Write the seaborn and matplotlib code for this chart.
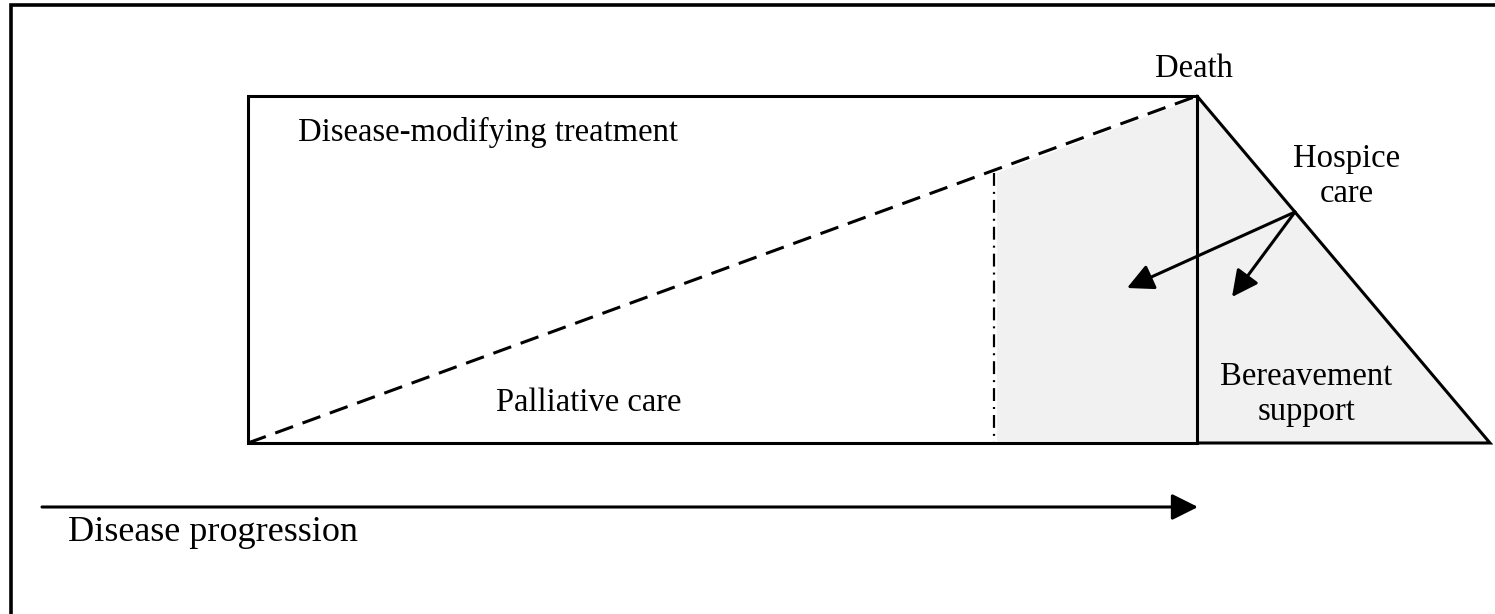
import numpy as np
import matplotlib
matplotlib.use("Agg")
import matplotlib.pyplot as plt
import seaborn as sns

# diagram geometry (pixel space of the original figure, y grows downward)
stage_x = [248, 997, 1197, 1490]      # onset, palliative shift, death, end of bereavement
top_y, base_y = 96, 443
progress_x = [42, 1198]
progress_y = 507
hospice_from = (1295, 212)
hospice_to = [(1127, 288), (1232, 297)]

labels = ["Death", "Disease-modifying treatment", "Hospice", "care",
          "Palliative care", "Bereavement", "support", "Disease progression"]
label_x = [1194, 298, 1347, 1347, 589, 1306, 1307, 68]
label_y = [77, 141, 167, 202, 411, 385, 420, 541]
label_ha = ["center", "left", "center", "center", "center", "center", "center", "left"]
label_size = [23.5, 23.5, 23.5, 23.5, 23.5, 23.5, 23.5, 26]

sns.set_theme(style="white")
plt.rcParams['font.family'] = ['Liberation Serif', 'DejaVu Serif']

fig = plt.figure(figsize=(14.95, 6.14), dpi=100)
ax = fig.add_axes([0, 0, 1, 1])
ax.set_xlim(0, 1495)
ax.set_ylim(614, 0)
ax.axis("off")

x0, x1, x2, x3 = stage_x

def dash_y(x):
    # y on the dashed diagonal from (x0, base) to (x2, top)
    return base_y - (x - x0) * (base_y - top_y) / (x2 - x0)

# shaded hospice / bereavement zone
shade_x = [x1, x1, x2, x3, x1]
shade_y = [base_y, dash_y(x1) + 4, top_y + 2, base_y, base_y]
ax.fill(shade_x, shade_y, color="#f1f1f1", lw=0, zorder=1)

lw = 2.2
# main rectangle
ax.plot([x0, x2, x2, x0, x0], [top_y, top_y, base_y, base_y, top_y],
        color="black", lw=lw, solid_joinstyle="miter", zorder=3)
# triangle after death
ax.plot([x2, x3, x2], [top_y, base_y, base_y], color="black", lw=lw,
        solid_joinstyle="miter", zorder=3)
# dashed diagonal
ax.plot([x0, x2], [base_y, top_y], color="black", lw=lw,
        linestyle=(0, (6.2, 3.3)), zorder=3)
# dash-dot vertical
ax.plot([x1 - 3, x1 - 3], [dash_y(x1) + 4, base_y], color="black", lw=1.6,
        linestyle=(0, (5.8, 2.7, 0.9, 2.7)), zorder=3)

# outer frame (left and top only)
ax.plot([11, 11, 1495], [614, 5, 5], color="black", lw=2.6,
        solid_joinstyle="miter", zorder=3)

# arrows
style = "-|>,head_length=0.8,head_width=0.4"
ax.annotate("", xy=(progress_x[1], progress_y), xytext=(progress_x[0], progress_y),
            arrowprops=dict(arrowstyle=style, color="black", lw=2.2,
                            mutation_scale=20, shrinkA=0, shrinkB=0), zorder=4)
for tip in hospice_to:
    ax.annotate("", xy=tip, xytext=hospice_from,
                arrowprops=dict(arrowstyle=style, color="black", lw=2.2,
                                mutation_scale=20, shrinkA=0, shrinkB=0), zorder=4)

for t, x, y, ha, s in zip(labels, label_x, label_y, label_ha, label_size):
    ax.text(x, y, t, ha=ha, va="baseline", fontsize=s, color="black", zorder=5)

fig.savefig("out.png", dpi=100)
